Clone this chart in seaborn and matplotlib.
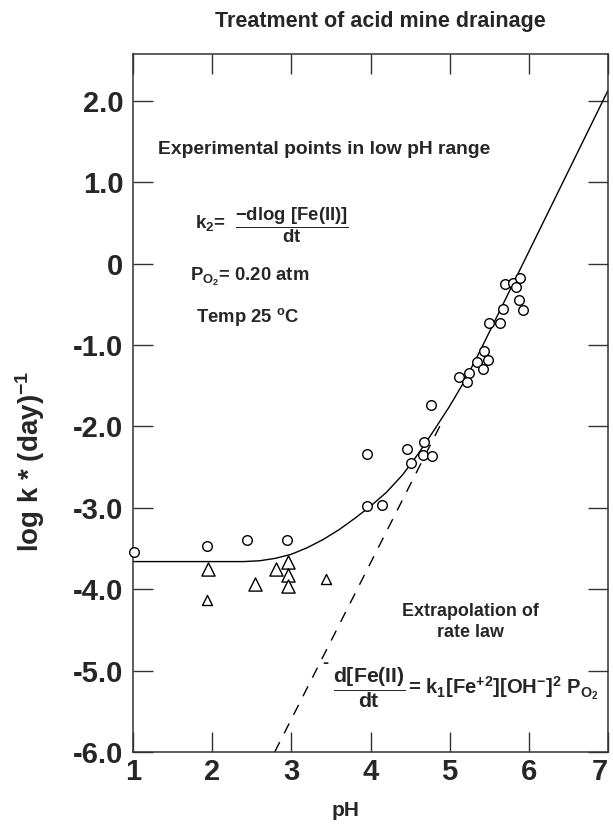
import matplotlib
matplotlib.use("Agg")
import matplotlib.pyplot as plt
import seaborn as sns
import pandas as pd

# ---------------- data ----------------
circle_ph = [1.01, 1.94, 2.44, 2.95, 3.96, 3.95, 4.14, 4.46, 4.51, 4.68, 4.66,
             4.78, 4.77, 5.12, 5.24, 5.22, 5.35, 5.43, 5.48, 5.42, 5.50, 5.64,
             5.68, 5.70, 5.80, 5.84, 5.89, 5.88, 5.92]
circle_logk = [-3.54, -3.47, -3.40, -3.40, -2.34, -2.98, -2.96, -2.28, -2.45,
               -2.19, -2.35, -2.36, -1.74, -1.39, -1.34, -1.45, -1.21, -1.07,
               -1.18, -1.29, -0.73, -0.73, -0.56, -0.25, -0.24, -0.28, -0.18,
               -0.45, -0.57]
# triangles (drawn at two sizes in the reference)
tri_big_ph = [1.95, 2.54, 2.81, 2.96, 2.96, 2.96]
tri_big_logk = [-3.75, -3.94, -3.75, -3.66, -3.82, -3.96]
tri_small_ph = [1.94, 3.44]
tri_small_logk = [-4.13, -3.88]

# fitted curve at regular pH steps
curve_ph = [1.0, 2.2, 2.4, 2.6, 2.8, 3.0, 3.2, 3.4, 3.6, 3.8, 4.0, 4.2, 4.4,
            4.6, 4.8, 5.0, 5.2, 5.4, 7.0]
curve_logk = [-3.66, -3.66, -3.66, -3.65, -3.62, -3.57, -3.49, -3.39, -3.27,
              -3.13, -2.98, -2.81, -2.60, -2.34, -2.05, -1.75, -1.42, -1.04,
              2.13]

dash_ph = [2.79, 4.90]
dash_logk = [-6.0, -1.95]

xticks = [1, 2, 3, 4, 5, 6, 7]
xtick_labels = ["1", "2", "3", "4", "5", "6", "7"]
yticks = [2, 1, 0, -1, -2, -3, -4, -5, -6]
ytick_labels = ["2.0", "1.0", "0", "-1.0", "-2.0", "-3.0", "-4.0", "-5.0", "-6.0"]

# ---------------- style ----------------
sns.set_style("ticks")
plt.rcParams.update({
    "font.family": ["Liberation Sans", "DejaVu Sans"],
    "font.weight": "bold",
    "mathtext.fontset": "custom",
    "mathtext.rm": "Liberation Sans:bold",
    "mathtext.it": "Liberation Sans:bold",
    "mathtext.bf": "Liberation Sans:bold",
    "mathtext.sf": "Liberation Sans:bold",
})

W, H = 613, 825
fig = plt.figure(figsize=(W / 100, H / 100), dpi=100)
L, R, T, B = 133, 608, 54, 752
ax = fig.add_axes([L / W, (H - B) / H, (R - L) / W, (B - T) / H])

curve_df = pd.DataFrame({"pH": curve_ph, "logk": curve_logk})
dash_df = pd.DataFrame({"pH": dash_ph, "logk": dash_logk})
circ_df = pd.DataFrame({"pH": circle_ph, "logk": circle_logk})
tri_big_df = pd.DataFrame({"pH": tri_big_ph, "logk": tri_big_logk})
tri_small_df = pd.DataFrame({"pH": tri_small_ph, "logk": tri_small_logk})

sns.lineplot(data=curve_df, x="pH", y="logk", color="black", lw=1.0,
             sort=False, estimator=None, ax=ax, zorder=2)
sns.lineplot(data=dash_df, x="pH", y="logk", color="black", lw=1.0,
             linestyle=(0, (8, 7)), sort=False, estimator=None, ax=ax, zorder=2)
sns.scatterplot(data=circ_df, x="pH", y="logk", marker="o", s=48,
                facecolor="white", edgecolor="black", linewidth=1.0,
                clip_on=False, zorder=3, ax=ax)
sns.scatterplot(data=tri_big_df, x="pH", y="logk", marker="^", s=90,
                facecolor="white", edgecolor="black", linewidth=1.0,
                clip_on=False, zorder=3, ax=ax)
sns.scatterplot(data=tri_small_df, x="pH", y="logk", marker="^", s=52,
                facecolor="white", edgecolor="black", linewidth=1.0,
                clip_on=False, zorder=3, ax=ax)

ax.set_xlim(1, 7)
ax.set_ylim(-6, 2 + (101 - 54) / 81.4)
ax.set_xticks(xticks)
ax.set_xticklabels(xtick_labels)
ax.set_yticks(yticks)
ax.set_yticklabels(ytick_labels)
ax.set_xlabel("")
ax.set_ylabel("")
ax.tick_params(axis="both", direction="in", length=14.5, width=1.0,
               top=True, right=True, color="#333333")
ax.tick_params(axis="y", labelsize=21, pad=7)
ax.tick_params(axis="x", labelsize=21, pad=4)
for lab in ax.get_xticklabels() + ax.get_yticklabels():
    lab.set_fontweight("bold")
ax.get_xticklabels()[-1].set_horizontalalignment("right")
for sp in ax.spines.values():
    sp.set_color("#333333")
    sp.set_linewidth(1.1)

# ---------------- texts ----------------
fig.text(380 / W, 1 - 21 / H, "Treatment of acid mine drainage",
         ha="center", va="center", fontsize=15.5, fontweight="bold")
fig.text(30 / W, 1 - 552 / H, "log k * (day)$^{-1}$", rotation=90,
         ha="center", va="bottom", fontsize=20, fontweight="bold")
fig.text(346 / W, 1 - 811 / H, "pH", ha="center", va="center",
         fontsize=15, fontweight="bold")


def ax_xy(px, py):
    return (px - L) / (R - L), (B - py) / (B - T)


def put(px, py, s, **kw):
    x, y = ax_xy(px, py)
    ax.text(x, y, s, transform=ax.transAxes, fontweight="bold", **kw)


put(158, 150, "Experimental points in low pH range", ha="left", va="center",
    fontsize=13.9)
put(195, 223, "k$_2$=", ha="left", va="center", fontsize=13.5)
put(292, 225, r"$\dfrac{-dlog\ [Fe(II)]}{dt}$", ha="center", va="center",
    fontsize=13.3)
put(190, 277, "P$_{O_2}$= 0.20 atm", ha="left", va="center", fontsize=13.3)
put(196, 317, "Temp 25 $^o$C", ha="left", va="center", fontsize=13.3)
put(470, 622, "Extrapolation of\nrate law", ha="center", va="center",
    fontsize=12.9, linespacing=1.3, multialignment="center")
put(325, 663, "-", ha="center", va="center", fontsize=13)
put(369, 688, r"$\dfrac{d[Fe(II)}{dt}$", ha="center", va="center",
    fontsize=15.3)
put(408, 688, "= k$_1$[Fe$^{+2}$][OH$^{-}$]$^2$ P$_{O_2}$", ha="left",
    va="center", fontsize=14.6)

fig.savefig("out.png", dpi=100)
